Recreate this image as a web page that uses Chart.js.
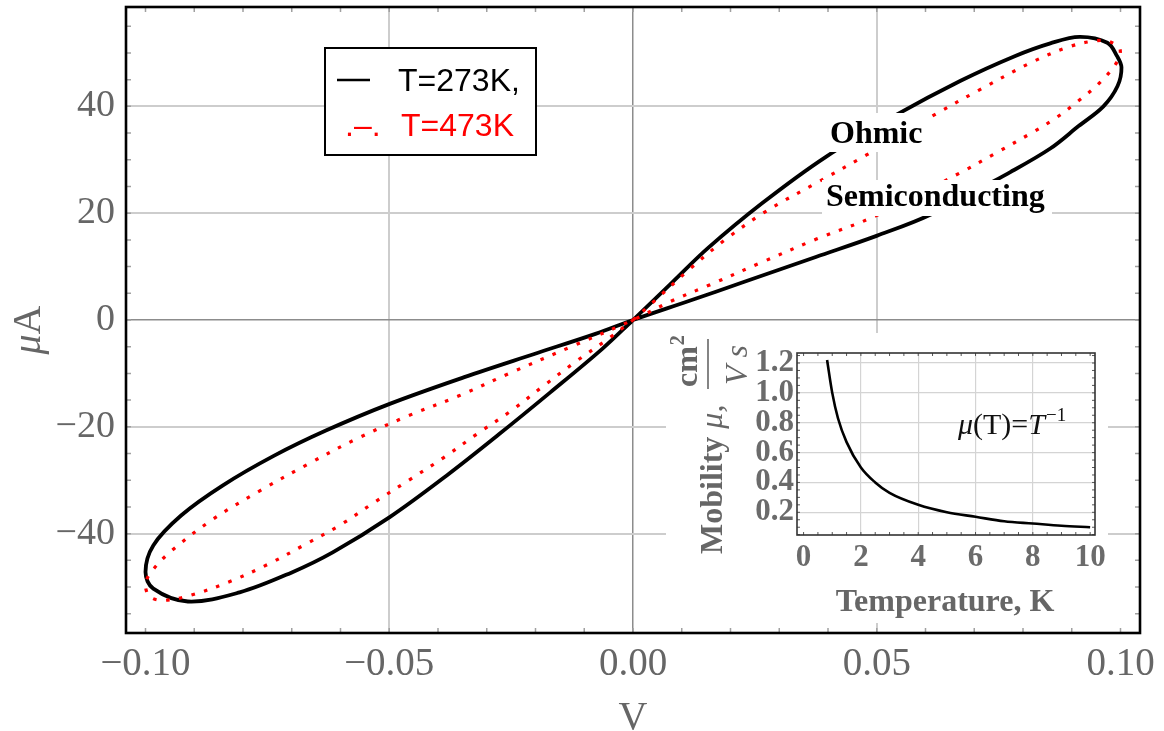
<!DOCTYPE html>
<html>
<head>
<meta charset="utf-8">
<script src="https://cdn.jsdelivr.net/npm/chart.js@4.4.0/dist/chart.umd.min.js"></script>
<style>
  html, body { margin: 0; padding: 0; background: #fff; }
  #wrap { position: relative; width: 1164px; height: 731px; }
  #main { position: absolute; left: 0; top: 0; }
  #inset { position: absolute; left: 666px; top: 333px; background: #fff; }
</style>
</head>
<body>
<div id="wrap">
  <canvas id="main" width="1164" height="731"></canvas>
  <canvas id="inset" width="442" height="290"></canvas>
</div>
<script>
// I-V loops, T = 273 K (solid black)
const black273V = [0, 0.0080, 0.0153, 0.0264, 0.0395, 0.0538, 0.0672, 0.0783, 0.0856, 0.0916, 0.0973, 0.0993, 0.1002, 0.0994, 0.0965, 0.0914, 0.0856, 0.0774, 0.0612, 0.0501, 0.0375, 0.0227, 0.0116, 0,
  -0.0077, -0.0204, -0.0346, -0.0499, -0.0630, -0.0736, -0.0842, -0.0927, -0.0984, -0.1000, -0.0984, -0.0913, -0.0807, -0.0701, -0.0616, -0.0499, -0.0382, -0.0275, -0.0169, -0.0063, 0];
const black273I = [0, 7.0, 13.4, 21.8, 30.5, 38.3, 44.8, 49.4, 51.8, 53.0, 51.9, 49.4, 47.3, 43.8, 40.0, 36.3, 32.1, 27.7, 19.8, 15.8, 11.8, 7.1, 3.6, 0,
  -2.6, -6.4, -10.7, -15.7, -20.7, -25.4, -31.0, -36.6, -42.2, -47.2, -50.3, -52.7, -51.0, -47.3, -43.5, -36.9, -29.1, -21.4, -13.5, -5.4, 0];

// I-V loops, T = 473 K (red dotted)
const red473V = [0, 0.0042, 0.0116, 0.0190, 0.0272, 0.0375, 0.0479, 0.0620, 0.0709, 0.0819, 0.0896, 0.0951, 0.0978, 0.0999, 0.0992, 0.0956, 0.0912, 0.0867, 0.0819, 0.0745, 0.0672, 0.0498, 0.0375, 0.0264, 0.0153, 0.0080, 0,
  -0.0127, -0.0254, -0.0357, -0.0460, -0.0566, -0.0665, -0.0764, -0.0860, -0.0949, -0.0991, -0.1000, -0.0991, -0.0963, -0.0906, -0.0828, -0.0750, -0.0676, -0.0601, -0.0530, -0.0460, -0.0389, -0.0321, -0.0250, -0.0183, -0.0116, -0.0049, 0];
const red473I = [0, 3.4, 9.5, 15.1, 20.3, 25.6, 30.9, 38.5, 43.0, 48.3, 51.2, 52.3, 52.1, 50.7, 48.2, 44.3, 40.9, 37.8, 35.1, 31.3, 27.6, 19.5, 15.1, 10.8, 6.4, 3.6, 0,
  -5.0, -10.0, -14.2, -17.9, -22.2, -26.9, -31.9, -37.2, -43.4, -47.5, -49.7, -51.8, -52.5, -51.5, -49.0, -45.8, -42.2, -38.4, -34.1, -30.0, -25.8, -21.4, -17.0, -12.3, -7.7, -3.4, 0];

const voltTicks = [-0.1, -0.05, 0, 0.05, 0.1];
const currentTicks = [-40, -20, 0, 20, 40];

// inset: mobility vs temperature
const tempK = [0.82, 1.0, 1.2, 1.5, 2.0, 2.5, 3.0, 4.0, 5.0, 6.0, 7.0, 8.0, 9.0, 10.0];
const mobility = [1.22, 1.0, 0.83, 0.67, 0.5, 0.4, 0.33, 0.25, 0.2, 0.17, 0.14, 0.125, 0.11, 0.1];
const tempTicks = [0, 2, 4, 6, 8, 10];
const mobilityTicks = [0.2, 0.4, 0.6, 0.8, 1.0, 1.2];

const SERIF = "'Liberation Serif', 'Times New Roman', serif";
const SANS = "'Liberation Sans', Arial, sans-serif";

function zip(xs, ys) {
  return xs.map((v, i) => ({ x: v, y: ys[i] }));
}
function minus(s) {
  return s.replace('-', '\u2212');
}
// keep the plot box where the layout puts it, whatever the label sizes
function noLabelPadding(s) {
  s.paddingTop = 0;
  s.paddingBottom = 0;
  s.paddingLeft = 0;
  s.paddingRight = 0;
}

// frame, minor ticks, legend, notes and axis titles of the big plot
const mainDecor = {
  id: 'mainDecor',
  afterDraw(chart) {
    const { ctx, chartArea: a, scales: { x, y } } = chart;
    ctx.save();

    // small ticks on the frame
    ctx.strokeStyle = '#a0a0a0';
    ctx.lineWidth = 1.5;
    ctx.beginPath();
    for (let i = -10; i <= 10; i++) {
      const px = x.getPixelForValue(i / 100);
      ctx.moveTo(px, a.top); ctx.lineTo(px, a.top + 5);
      ctx.moveTo(px, a.bottom); ctx.lineTo(px, a.bottom - 5);
    }
    for (let j = -55; j <= 55; j += 5) {
      const py = y.getPixelForValue(j);
      ctx.moveTo(a.left, py); ctx.lineTo(a.left + 5, py);
      ctx.moveTo(a.right, py); ctx.lineTo(a.right - 5, py);
    }
    ctx.stroke();

    ctx.strokeStyle = '#000';
    ctx.lineWidth = 2.6;
    ctx.strokeRect(a.left, a.top, a.right - a.left, a.bottom - a.top);

    // legend
    ctx.fillStyle = '#fff';
    ctx.fillRect(325, 48, 211, 107);
    ctx.lineWidth = 2;
    ctx.strokeRect(325, 48, 211, 107);
    ctx.beginPath();
    ctx.moveTo(337, 80); ctx.lineTo(370, 80);
    ctx.lineWidth = 2.5;
    ctx.stroke();
    ctx.font = '32px ' + SANS;
    ctx.textBaseline = 'alphabetic';
    ctx.textAlign = 'left';
    ctx.fillStyle = '#000';
    ctx.fillText('T=273K,', 398, 91);
    ctx.fillStyle = '#ff0000';
    ctx.fillText('.\u2013.', 345, 136);
    ctx.fillText('T=473K', 401, 136);

    // region notes
    ctx.fillStyle = '#fff';
    ctx.fillRect(826, 113, 102, 39);
    ctx.fillRect(822, 180, 230, 36);
    ctx.fillStyle = '#000';
    ctx.font = 'bold 32px ' + SERIF;
    ctx.fillText('Ohmic', 830, 143);
    ctx.fillText('Semiconducting', 826, 206);

    // axis titles
    ctx.fillStyle = '#666';
    ctx.font = '40px ' + SERIF;
    ctx.textAlign = 'center';
    ctx.fillText('V', 633, 729);

    ctx.translate(40, 330);
    ctx.rotate(-Math.PI / 2);
    ctx.textAlign = 'left';
    ctx.font = 'italic 40px ' + SERIF;
    const muW = ctx.measureText('\u03bc').width;
    ctx.font = '40px ' + SERIF;
    const aW = ctx.measureText('A').width;
    const start = -(muW + aW) / 2;
    ctx.font = 'italic 40px ' + SERIF;
    ctx.fillText('\u03bc', start, 0);
    ctx.font = '40px ' + SERIF;
    ctx.fillText('A', start + muW, 0);
    ctx.restore();
  }
};

new Chart(document.getElementById('main'), {
  type: 'scatter',
  data: {
    datasets: [
      {
        label: 'T=473K',
        data: zip(red473V, red473I),
        showLine: true,
        borderColor: '#ff0000',
        borderWidth: 3.2,
        borderDash: [3.5, 9.5],
        borderCapStyle: 'butt',
        pointRadius: 0,
        tension: 0.35,
        order: 0
      },
      {
        label: 'T=273K',
        data: zip(black273V, black273I),
        showLine: true,
        borderColor: '#000',
        borderWidth: 3.8,
        pointRadius: 0,
        tension: 0.35,
        order: 1
      }
    ]
  },
  options: {
    responsive: false,
    animation: false,
    devicePixelRatio: 1,
    layout: { padding: { left: 0, top: 7, right: 24, bottom: 0 } },
    plugins: { legend: { display: false }, tooltip: { enabled: false } },
    scales: {
      x: {
        type: 'linear',
        min: -0.104,
        max: 0.104,
        afterBuildTicks: (s) => { s.ticks = voltTicks.map(v => ({ value: v })); },
        afterFit: (s) => { s.height = 98; noLabelPadding(s); },
        border: { display: false },
        grid: {
          drawTicks: false,
          color: (c) => c.tick.value === 0 ? '#8c8c8c' : (Math.abs(c.tick.value) > 0.09 ? 'rgba(0,0,0,0)' : '#cdcdcd'),
          lineWidth: (c) => c.tick.value === 0 ? 1.5 : 2
        },
        ticks: {
          autoSkip: false,
          maxRotation: 0,
          padding: 8,
          color: '#666',
          font: { family: SERIF, size: 39 },
          callback: (v) => minus(v.toFixed(2))
        }
      },
      y: {
        type: 'linear',
        min: -58.6,
        max: 58.6,
        afterBuildTicks: (s) => { s.ticks = currentTicks.map(v => ({ value: v })); },
        afterFit: (s) => { s.width = 126; noLabelPadding(s); },
        border: { display: false },
        grid: {
          drawTicks: false,
          color: (c) => c.tick.value === 0 ? '#8c8c8c' : '#cdcdcd',
          lineWidth: (c) => c.tick.value === 0 ? 1.5 : 2
        },
        ticks: {
          autoSkip: false,
          padding: 11,
          color: '#666',
          font: { family: SERIF, size: 38 },
          callback: (v) => minus(String(v))
        }
      }
    }
  },
  plugins: [mainDecor]
});

// frame, y title and formula of the inset
const insetDecor = {
  id: 'insetDecor',
  afterDraw(chart) {
    const { ctx, chartArea: a, scales: { x, y } } = chart;
    ctx.save();
    ctx.strokeStyle = '#555';
    ctx.lineWidth = 1;
    ctx.beginPath();
    for (let i = 0; i <= 20; i++) {
      const px = x.getPixelForValue(i / 2);
      ctx.moveTo(px, a.bottom); ctx.lineTo(px, a.bottom - 3);
      ctx.moveTo(px, a.top); ctx.lineTo(px, a.top + 3);
    }
    for (let j = 1; j <= 25; j++) {
      const py = y.getPixelForValue(j / 20);
      ctx.moveTo(a.left, py); ctx.lineTo(a.left + 3, py);
      ctx.moveTo(a.right, py); ctx.lineTo(a.right - 3, py);
    }
    ctx.stroke();
    ctx.strokeStyle = '#333';
    ctx.lineWidth = 1.6;
    ctx.strokeRect(a.left, a.top, a.right - a.left, a.bottom - a.top);

    // formula
    ctx.fillStyle = '#111';
    ctx.textBaseline = 'alphabetic';
    ctx.textAlign = 'left';
    let cx = 292;
    const base = 101;
    ctx.font = 'italic 30px ' + SERIF;
    ctx.fillText('\u03bc', cx, base); cx += ctx.measureText('\u03bc').width;
    ctx.font = '30px ' + SERIF;
    ctx.fillText('(T)=', cx, base); cx += ctx.measureText('(T)=').width;
    ctx.font = 'italic 30px ' + SERIF;
    ctx.fillText('T', cx, base); cx += ctx.measureText('T').width + 1;
    ctx.font = '19px ' + SERIF;
    ctx.fillText('\u22121', cx, base - 13);

    // x title
    ctx.fillStyle = '#666';
    ctx.font = 'bold 32px ' + SERIF;
    ctx.textAlign = 'center';
    ctx.fillText('Temperature, K', 279, 278);

    // rotated y title: Mobility mu, cm^2 / (V s)
    ctx.rotate(-Math.PI / 2);
    ctx.textAlign = 'left';
    ctx.font = 'bold 32px ' + SERIF;
    ctx.fillText('Mobility', -221, 56);
    const mobW = ctx.measureText('Mobility ').width;
    ctx.font = 'italic 32px ' + SERIF;
    ctx.fillText('\u03bc,', -221 + mobW, 56);
    // fraction
    ctx.strokeStyle = '#666';
    ctx.lineWidth = 1.6;
    ctx.beginPath();
    ctx.moveTo(-56, 42); ctx.lineTo(-6, 42);
    ctx.stroke();
    ctx.font = 'bold 32px ' + SERIF;
    ctx.fillText('cm', -54, 31);
    const cmW = ctx.measureText('cm').width;
    ctx.font = 'bold 20px ' + SERIF;
    ctx.fillText('2', -54 + cmW + 1, 18);
    ctx.font = 'italic 32px ' + SERIF;
    ctx.fillText('V s', -52, 81);
    ctx.restore();
  }
};

new Chart(document.getElementById('inset'), {
  type: 'scatter',
  data: {
    datasets: [{
      label: 'mobility',
      data: zip(tempK, mobility),
      showLine: true,
      borderColor: '#000',
      borderWidth: 2.6,
      pointRadius: 0,
      cubicInterpolationMode: 'monotone'
    }]
  },
  options: {
    responsive: false,
    animation: false,
    devicePixelRatio: 1,
    layout: { padding: { left: 0, top: 20, right: 13, bottom: 0 } },
    plugins: { legend: { display: false }, tooltip: { enabled: false } },
    scales: {
      x: {
        type: 'linear',
        min: -0.23,
        max: 10.17,
        afterBuildTicks: (s) => { s.ticks = tempTicks.map(v => ({ value: v })); },
        afterFit: (s) => { s.height = 88; noLabelPadding(s); },
        border: { display: false },
        grid: {
          drawTicks: false,
          color: (c) => (c.tick.value === 0 || c.tick.value === 10) ? 'rgba(0,0,0,0)' : '#d4d4d4',
          lineWidth: 1.2
        },
        ticks: {
          autoSkip: false,
          maxRotation: 0,
          padding: 4,
          color: '#6b6b6b',
          font: { family: SERIF, size: 31, weight: 'bold' }
        }
      },
      y: {
        type: 'linear',
        min: 0.048,
        max: 1.267,
        afterBuildTicks: (s) => { s.ticks = mobilityTicks.map(v => ({ value: v })); },
        afterFit: (s) => { s.width = 131; noLabelPadding(s); },
        border: { display: false },
        grid: { drawTicks: false, color: '#d4d4d4', lineWidth: 1.2 },
        ticks: {
          autoSkip: false,
          padding: 3,
          color: '#6b6b6b',
          font: { family: SERIF, size: 31, weight: 'bold' },
          callback: (v) => v.toFixed(1)
        }
      }
    }
  },
  plugins: [insetDecor]
});
</script>
</body>
</html>
